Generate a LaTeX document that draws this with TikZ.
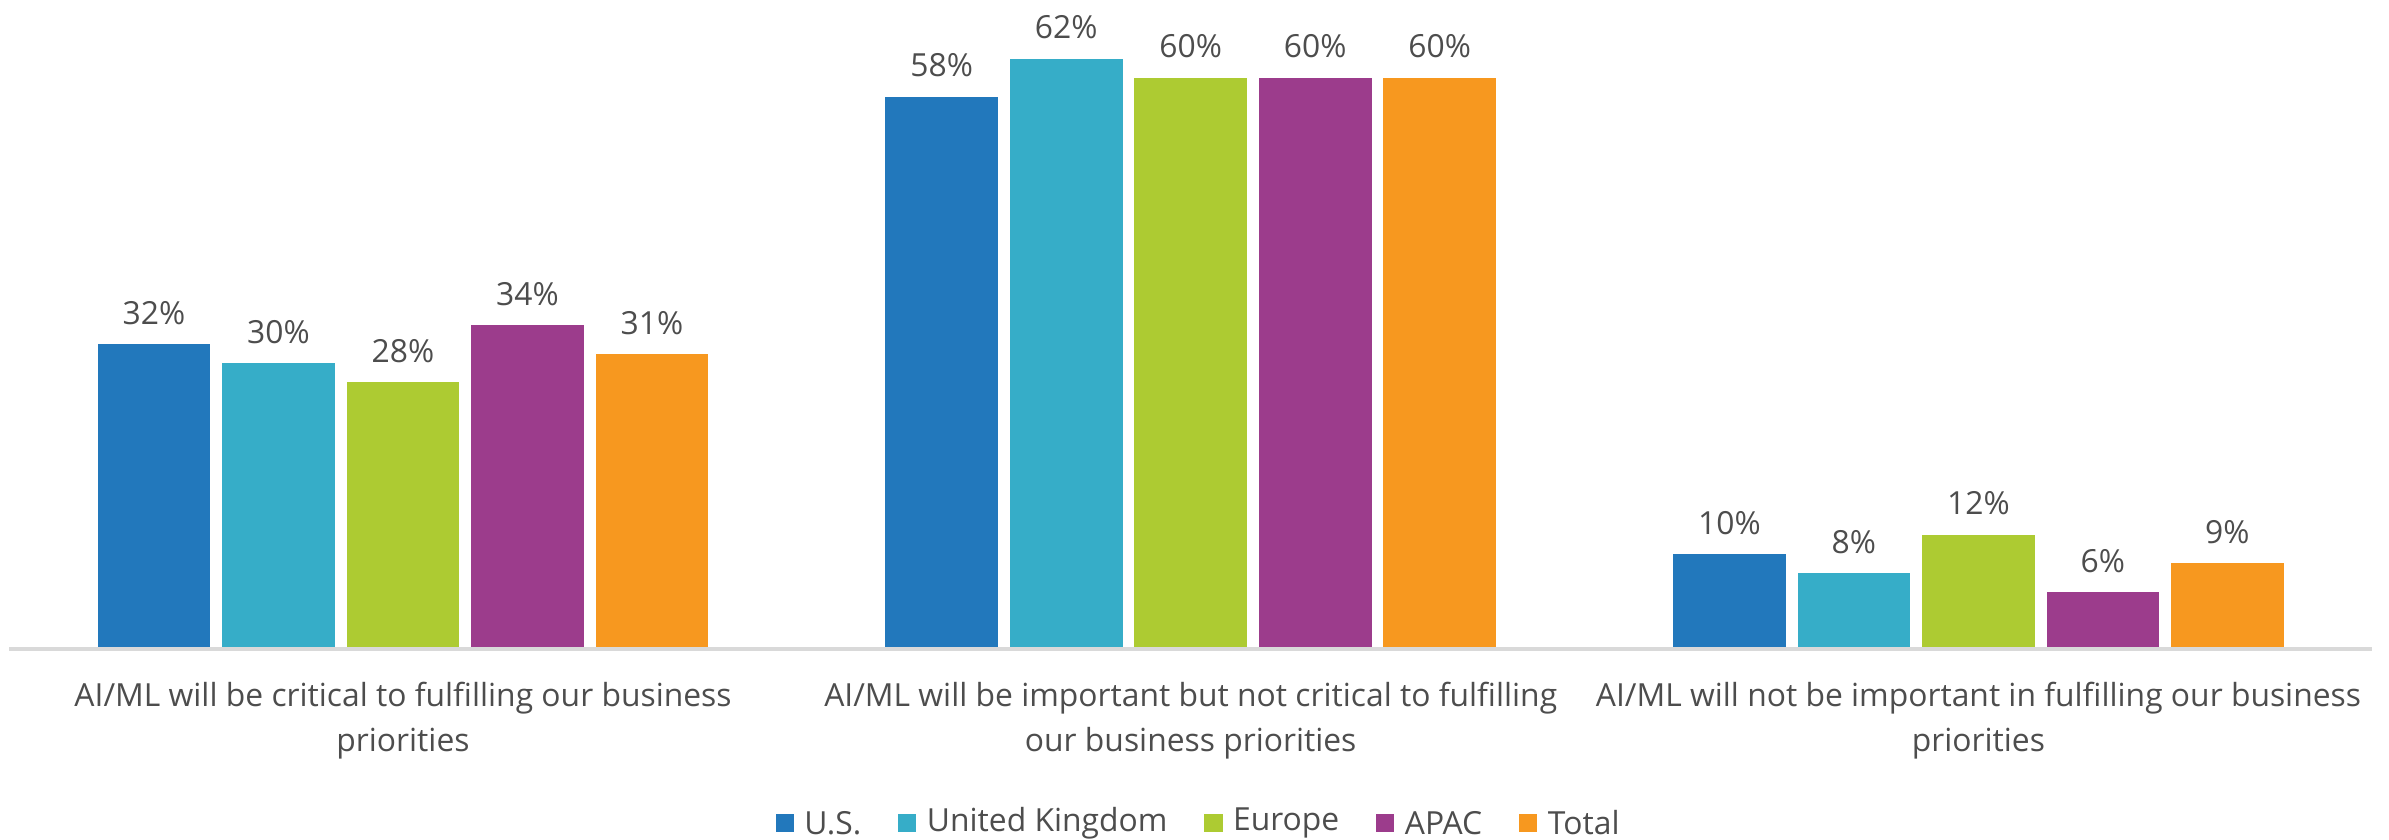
\documentclass[tikz,border=0pt]{standalone}
\usepackage{fontspec}
\setmainfont{Open Sans}
\usepackage{xcolor}
\usepackage{tikz}
\usetikzlibrary{positioning}

\definecolor{usblue}{HTML}{2278BC}
\definecolor{ukcyan}{HTML}{36ADC8}
\definecolor{eugreen}{HTML}{ADCB32}
\definecolor{apacpurple}{HTML}{9C3C8C}
\definecolor{totalorange}{HTML}{F7981F}
\definecolor{txtgray}{HTML}{4D4D4D}
\definecolor{axisgray}{HTML}{D9D9D9}

\begin{document}
\begin{tikzpicture}[x=0.45pt, y=0.45pt,
    every node/.style={text=txtgray, font=\fontsize{9.4}{13.5}\selectfont},
    vallabel/.style={anchor=base, inner sep=0pt},
    catlabel/.style={anchor=north, align=center, inner sep=0pt},
    legbox/.style={minimum size=5.4pt, inner sep=0pt},
    legtext/.style={inner sep=0pt, anchor=west}]
    \useasboundingbox (0,0) rectangle (1568,551);
    % Critical
    \fill[usblue] (64.1,125) rectangle (138.1,325);
    \fill[ukcyan] (145.8,125) rectangle (219.8,312.5);
    \fill[eugreen] (227.5,125) rectangle (301.5,300);
    \fill[apacpurple] (309.2,125) rectangle (383.2,337.5);
    \fill[totalorange] (390.9,125) rectangle (464.9,318.75);
    % Important but not critical
    \fill[usblue] (581.1,125) rectangle (655.1,487.5);
    \fill[ukcyan] (662.8,125) rectangle (736.8,512.5);
    \fill[eugreen] (744.5,125) rectangle (818.5,500);
    \fill[apacpurple] (826.2,125) rectangle (900.2,500);
    \fill[totalorange] (907.9,125) rectangle (981.9,500);
    % Not important
    \fill[usblue] (1098.1,125) rectangle (1172.1,187.5);
    \fill[ukcyan] (1179.8,125) rectangle (1253.8,175);
    \fill[eugreen] (1261.5,125) rectangle (1335.5,200);
    \fill[apacpurple] (1343.2,125) rectangle (1417.2,162.5);
    \fill[totalorange] (1424.9,125) rectangle (1498.9,181.25);
    % Axis
    \draw[axisgray, line width=1pt] (6,125) -- (1557,125);
    % Value labels
    \node[vallabel] (v11) at (101.1,338) {32\%};
    \node[vallabel] (v12) at (182.8,325.5) {30\%};
    \node[vallabel] (v13) at (264.5,313) {28\%};
    \node[vallabel] (v14) at (346.2,350.5) {34\%};
    \node[vallabel] (v15) at (427.9,331.75) {31\%};
    \node[vallabel] (v21) at (618.1,500.5) {58\%};
    \node[vallabel] (v22) at (699.8,525.5) {62\%};
    \node[vallabel] (v23) at (781.5,513) {60\%};
    \node[vallabel] (v24) at (863.2,513) {60\%};
    \node[vallabel] (v25) at (944.9,513) {60\%};
    \node[vallabel] (v31) at (1135.1,200.5) {10\%};
    \node[vallabel] (v32) at (1216.8,188) {8\%};
    \node[vallabel] (v33) at (1298.5,213) {12\%};
    \node[vallabel] (v34) at (1380.2,175.5) {6\%};
    \node[vallabel] (v35) at (1461.9,194.25) {9\%};
    % Category labels
    \node[catlabel] (critical) at (264.5,104) {AI/ML will be critical to fulfilling our business\\priorities};
    \node[catlabel] (important) at (781.5,104) {AI/ML will be important but not critical to fulfilling\\our business priorities};
    \node[catlabel] (notimportant) at (1298.5,104) {AI/ML will not be important in fulfilling our business\\priorities};
    % Legend
    \node[legbox, fill=usblue] (lgus) at (515,11) {};
    \node[legtext, right=2.7pt of lgus] (lgustxt) {U.S.};
    \node[legbox, fill=ukcyan, right=10.5pt of lgustxt] (lguk) {};
    \node[legtext, right=2.7pt of lguk] (lguktxt) {United Kingdom};
    \node[legbox, fill=eugreen, right=10.5pt of lguktxt] (lgeu) {};
    \node[legtext, right=2.7pt of lgeu] (lgeutxt) {Europe};
    \node[legbox, fill=apacpurple, right=10.5pt of lgeutxt] (lgapac) {};
    \node[legtext, right=2.7pt of lgapac] (lgapactxt) {APAC};
    \node[legbox, fill=totalorange, right=10.5pt of lgapactxt] (lgtotal) {};
    \node[legtext, right=2.7pt of lgtotal] (lgtotaltxt) {Total};
\end{tikzpicture}
\end{document}
